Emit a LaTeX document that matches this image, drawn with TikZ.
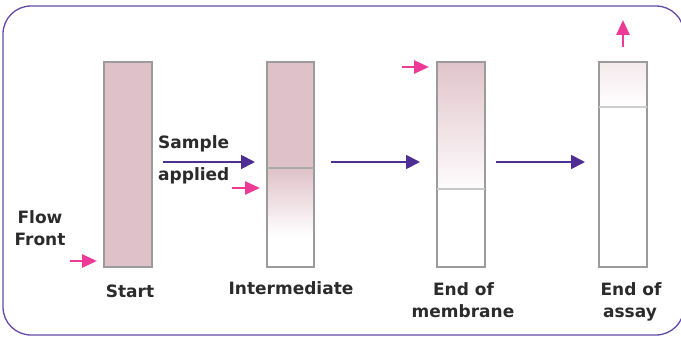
\documentclass[tikz,border=0pt]{standalone}
\usepackage{fontspec}
\setmainfont{DejaVu Sans}
\usetikzlibrary{arrows.meta,calc}
\definecolor{stripgray}{HTML}{9B9B9B}
\definecolor{sampink}{HTML}{DFC1C9}
\definecolor{flowpurple}{HTML}{4E2D94}
\definecolor{framepurple}{HTML}{6549A6}
\definecolor{markpink}{HTML}{EC3A96}
\definecolor{txt}{HTML}{2B2B2B}
\tikzset{
  stripbox/.style={draw=stripgray, line width=1.6pt, minimum width=48pt, minimum height=205pt, inner sep=0pt, outer sep=0pt},
  flowarrow/.style={draw=flowpurple, line width=1.8pt, -{Triangle[length=14pt,width=14pt]}},
  markarrow/.style={draw=markpink, line width=2.6pt, -{Triangle[length=15pt,width=13pt]}},
  lbl/.style={text=txt, font=\fontsize{17}{22}\selectfont\bfseries, inner sep=0pt, anchor=base},
  levelline/.style={line width=1.2pt},
}
\begin{document}
\begin{tikzpicture}[x=1pt,y=-1pt]
\useasboundingbox (0,0) rectangle (681,337);
\draw[framepurple, line width=1.3pt, rounded corners=28pt] (3,6) rectangle (684,335);
% fills
\fill[sampink] (104,62) rectangle (152,267);
\fill[sampink] (267,62) rectangle (314,168);
\shade[top color=sampink, bottom color=white] (267,168) rectangle (314,236);
\shade[top color=sampink!95, bottom color=sampink!5] (437,62) rectangle (485,189);
\shade[top color=sampink!35, bottom color=white] (599,62) rectangle (647,107);
% strips
\node[stripbox] (s1) at (128,164.5) {};
\node[stripbox, minimum width=47pt] (s2) at (290.5,164.5) {};
\node[stripbox] (s3) at (461,164.5) {};
\node[stripbox] (s4) at (623,164.5) {};
\draw[levelline, stripgray!85] (s2.west |- 0,168) -- (s2.east |- 0,168);
\draw[levelline, stripgray!55] (s3.west |- 0,189) -- (s3.east |- 0,189);
\draw[levelline, stripgray!50] (s4.west |- 0,107) -- (s4.east |- 0,107);
% flow arrows
\draw[flowarrow, shorten <=11pt, shorten >=12pt] ([yshift=2.5pt]s1.east) -- ([yshift=2.5pt]s2.west);
\draw[flowarrow, shorten <=17pt, shorten >=17pt] ([yshift=2.5pt]s2.east) -- ([yshift=2.5pt]s3.west);
\draw[flowarrow, shorten <=11pt, shorten >=14pt] ([yshift=2.5pt]s3.east) -- ([yshift=2.5pt]s4.west);
% flow front markers
\coordinate (m1) at (70,261);
\coordinate (m1t) at (97,261);
\coordinate (m2) at (232,188);
\coordinate (m2t) at (260,188);
\coordinate (m3) at (402,67);
\coordinate (m3t) at (429,67);
\coordinate (m4) at (623,47);
\coordinate (m4t) at (623,20);
\draw[markarrow] (m1) -- (m1t);
\draw[markarrow] (m2) -- (m2t);
\draw[markarrow] (m3) -- (m3t);
\draw[markarrow] (m4) -- (m4t);
% labels
\node[lbl, anchor=base west] (sa) at (158,148) {Sample};
\node[lbl, anchor=base west] (ap) at (158,180) {applied};
\node[lbl] (ff1) at (40,223) {Flow};
\node[lbl] (ff2) at (40,245) {Front};
\node[lbl] (l1) at (130,297) {Start};
\node[lbl] (l2) at (291,294) {Intermediate};
\node[lbl] (l3a) at (463.5,295) {End of};
\node[lbl] (l3b) at (463,317) {membrane};
\node[lbl] (l4a) at (631,295) {End of};
\node[lbl] (l4b) at (630,317) {assay};
\end{tikzpicture}
\end{document}
